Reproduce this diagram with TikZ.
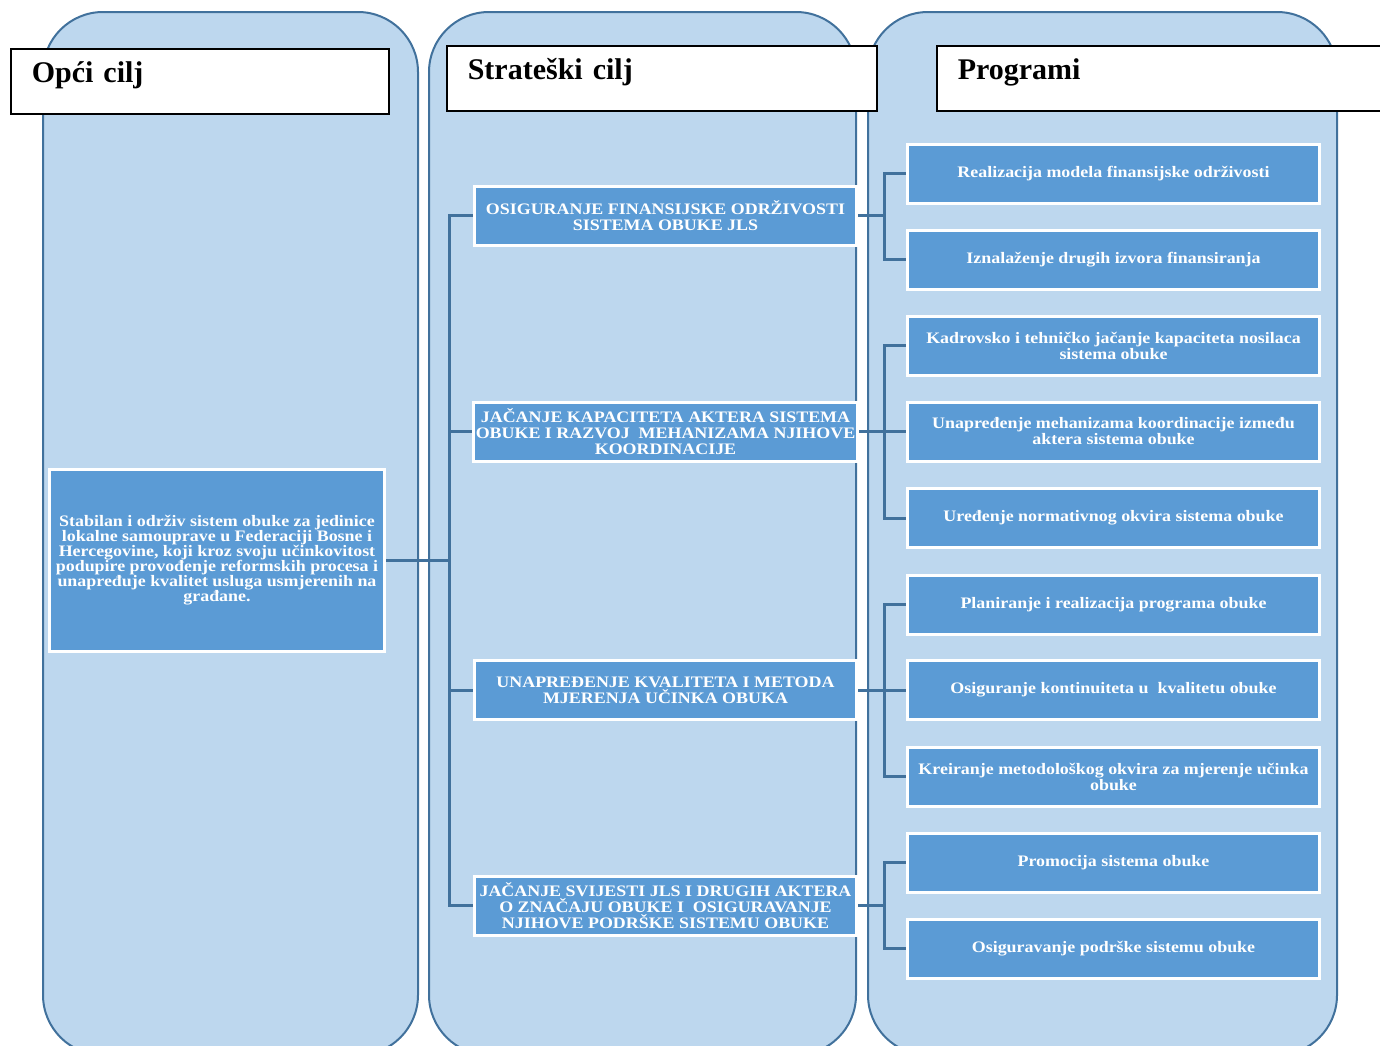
\documentclass[tikz,border=0pt]{standalone}
\usepackage{fontspec}
\setmainfont{Liberation Serif}
\newfontfamily\boxfont[FakeStretch=1.12]{Liberation Serif}
\usetikzlibrary{positioning,backgrounds}
\definecolor{colfill}{HTML}{BDD7EE}
\definecolor{colline}{HTML}{41719C}
\definecolor{boxfill}{HTML}{5B9BD5}

\begin{document}
\begin{tikzpicture}[
    x=0.5pt, y=-0.5pt,
    column/.style={rectangle, draw=colline, fill=colfill, line width=1pt, rounded corners=30pt, inner sep=0pt},
    head/.style={rectangle, draw=black, fill=white, line width=0.8pt, anchor=north west, align=left, inner xsep=10.5pt, inner ysep=0pt, text height=17pt, text depth=15.5pt, font=\bfseries\fontsize{15}{15}\selectfont},
    box/.style={rectangle, draw=white, fill=boxfill, line width=1.5pt, align=center, inner xsep=1pt, inner ysep=0pt, text=white, font=\boxfont\bfseries\fontsize{8}{8}\selectfont},
    midbox/.style={box, minimum width=191pt, minimum height=29.5pt},
    progbox/.style={box, minimum width=206pt, minimum height=29.5pt},
    link/.style={draw=colline, line width=1.5pt}
]
\useasboundingbox (0,0) rectangle (1380,1045);

% Column headers
\node[head, text width=168pt] (hgoal) at (10,48) {Opći cilj};
\node[head, text width=194pt] (hstrat) at (446,45) {Strateški cilj};
\node[head, text width=211pt] (hprog) at (936,45) {Programi};

% General goal
\node[box, minimum width=167.5pt, minimum height=91pt, font=\boxfont\bfseries\fontsize{8}{7.5}\selectfont] (goal) at (217,560.5) {Stabilan i održiv sistem obuke za jedinice\\lokalne samouprave u Federaciji Bosne i\\Hercegovine, koji kroz svoju učinkovitost\\podupire provođenje reformskih procesa i\\unapređuje kvalitet usluga usmjerenih na\\građane.};

% Strategic goals
\node[midbox] (s1) at (665.5,215.5) {OSIGURANJE FINANSIJSKE ODRŽIVOSTI\\SISTEMA OBUKE JLS};
\node[midbox] (s2) at (665.5,431.5) {JAČANJE KAPACITETA AKTERA SISTEMA\\OBUKE I RAZVOJ\ \ MEHANIZAMA NJIHOVE\\KOORDINACIJE};
\node[midbox] (s3) at (665.5,690) {UNAPREĐENJE KVALITETA I METODA\\MJERENJA UČINKA OBUKA};
\node[midbox] (s4) at (665.5,905.5) {JAČANJE SVIJESTI JLS I DRUGIH AKTERA\\O ZNAČAJU OBUKE I\ \ OSIGURAVANJE\\NJIHOVE PODRŠKE SISTEMU OBUKE};

% Programmes
\node[progbox] (p1) at (1113.5,173.5) {Realizacija modela finansijske održivosti};
\node[progbox] (p2) at (1113.5,259.5) {Iznalaženje drugih izvora finansiranja};
\node[progbox] (p3) at (1113.5,345.5) {Kadrovsko i tehničko jačanje kapaciteta nosilaca\\sistema obuke};
\node[progbox] (p4) at (1113.5,431.5) {Unapređenje mehanizama koordinacije između\\aktera sistema obuke};
\node[progbox] (p5) at (1113.5,518) {Uređenje normativnog okvira sistema obuke};
\node[progbox] (p6) at (1113.5,604.5) {Planiranje i realizacija programa obuke};
\node[progbox] (p7) at (1113.5,690) {Osiguranje kontinuiteta u\ \ kvalitetu obuke};
\node[progbox] (p8) at (1113.5,776.5) {Kreiranje metodološkog okvira za mjerenje učinka\\obuke};
\node[progbox] (p9) at (1113.5,862.5) {Promocija sistema obuke};
\node[progbox] (p10) at (1113.5,948.5) {Osiguravanje podrške sistemu obuke};

% Background columns and links
\begin{scope}[on background layer]
\node[column, minimum width=187.5pt, minimum height=521.5pt] (col1) at (230.5,533.5) {};
\node[column, minimum width=213.5pt, minimum height=521.5pt] (col2) at (642.5,533.5) {};
\node[column, minimum width=234.5pt, minimum height=521.5pt] (col3) at (1102.5,533.5) {};

\draw[link] (goal.east) -- ++(63,0) |- (s1.west);
\draw[link] (goal.east) -- ++(63,0) |- (s2.west);
\draw[link] (goal.east) -- ++(63,0) |- (s3.west);
\draw[link] (goal.east) -- ++(63,0) |- (s4.west);

\draw[link] (s1.east) -- ++(26,0) |- (p1.west);
\draw[link] (s1.east) -- ++(26,0) |- (p2.west);
\draw[link] (s2.east) -- ++(26,0) |- (p3.west);
\draw[link] (s2.east) -- ++(26,0) |- (p4.west);
\draw[link] (s2.east) -- ++(26,0) |- (p5.west);
\draw[link] (s3.east) -- ++(26,0) |- (p6.west);
\draw[link] (s3.east) -- ++(26,0) |- (p7.west);
\draw[link] (s3.east) -- ++(26,0) |- (p8.west);
\draw[link] (s4.east) -- ++(26,0) |- (p9.west);
\draw[link] (s4.east) -- ++(26,0) |- (p10.west);
\end{scope}

\end{tikzpicture}
\end{document}
